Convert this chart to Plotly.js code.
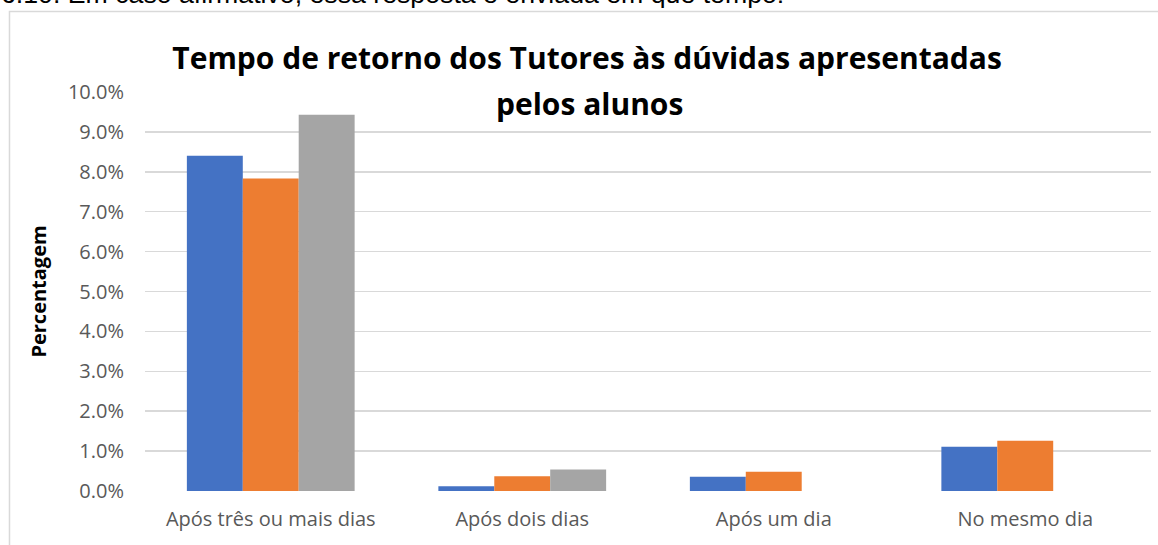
<!DOCTYPE html>
<html>
<head>
<meta charset="utf-8">
<script src="https://cdn.plot.ly/plotly-3.0.1.min.js"></script>
<style>
  html, body { margin: 0; padding: 0; background: #fff; }
  #chart { width: 1158px; height: 545px; }
</style>
</head>
<body>
<div id="chart"></div>
<script>
// categories and series values (fractions, shown as %)
var categories = ['Após três ou mais dias', 'Após dois dias', 'Após um dia', 'No mesmo dia'];
var serie1 = [0.0840, 0.0012, 0.0036, 0.0111];
var serie2 = [0.0783, 0.0037, 0.0048, 0.0126];
var serie3 = [0.0943, 0.0054, null, null];
var colors = ['#4472C4', '#ED7D31', '#A5A5A5'];

var titleLine1 = 'Tempo de retorno dos Tutores às dúvidas apresentadas';
var titleLine2 = 'pelos alunos';
var headerText = '6.10. Em caso afirmativo, essa resposta é enviada em que tempo:';

var data = [serie1, serie2, serie3].map(function(vals, i) {
	return {
		x: categories,
		y: vals,
		type: 'bar',
		name: 'Série ' + (i + 1),
		marker: {color: colors[i]},
		hoverinfo: 'x+y'
	};
});

var layout = {
	width: 1158,
	height: 545,
	margin: {l: 145, r: 7, t: 92, b: 54},
	paper_bgcolor: '#ffffff',
	plot_bgcolor: '#ffffff',
	showlegend: false,
	barmode: 'group',
	bargap: 0.333,
	bargroupgap: 0,
	font: {family: 'Open Sans, sans-serif', color: '#595959'},
	title: {
		text: titleLine1,
		font: {family: 'Open Sans, sans-serif', size: 30, weight: 'bold', color: '#000000'},
		xref: 'container', x: 0.507, xanchor: 'center',
		yref: 'container', y: 0.892, yanchor: 'middle'
	},
	xaxis: {
		type: 'category',
		showgrid: false,
		showline: false,
		zeroline: false,
		ticks: '',
		ticklabelstandoff: 14,
		tickfont: {size: 20, color: '#595959'}
	},
	yaxis: {
		range: [0, 0.1],
		dtick: 0.01,
		tickformat: '.1%',
		showgrid: true,
		gridcolor: '#d9d9d9',
		gridwidth: 1.5,
		zeroline: false,
		showline: false,
		ticks: '',
		ticklabelstandoff: 20,
		tickfont: {size: 20, color: '#595959'},
		title: {
			text: 'Percentagem',
			standoff: 15,
			font: {size: 20, weight: 'bold', color: '#000000'}
		}
	},
	annotations: [
		{
			text: titleLine2,
			xref: 'paper', yref: 'paper',
			x: 0.4423, y: 0.970,
			xanchor: 'center', yanchor: 'middle',
			showarrow: false,
			font: {family: 'Open Sans, sans-serif', size: 30, weight: 'bold', color: '#000000'}
		},
		{
			text: headerText,
			xref: 'paper', yref: 'paper',
			x: -0.1451, y: 1.2456,
			xanchor: 'left', yanchor: 'middle',
			showarrow: false,
			font: {family: 'Liberation Sans, Arial, sans-serif', size: 26.7, color: '#000000'}
		}
	],
	shapes: [
		{
			// chart frame
			type: 'rect',
			xref: 'paper', yref: 'paper',
			x0: -0.1347, x1: 1.02,
			y0: -0.15, y1: 1.2018,
			line: {color: '#d9d9d9', width: 1.5},
			fillcolor: 'rgba(0,0,0,0)',
			layer: 'below'
		}
	]
};

var config = {displayModeBar: false, staticPlot: true};
Plotly.newPlot('chart', data, layout, config);
</script>
</body>
</html>
